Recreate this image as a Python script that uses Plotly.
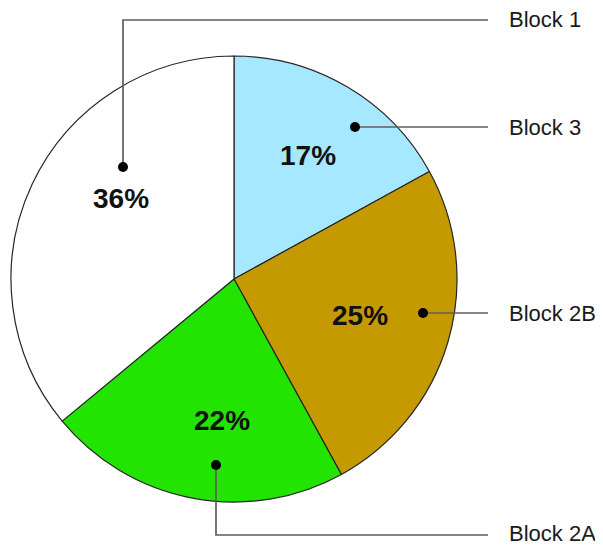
import plotly.graph_objects as go

labels = ["Block 3", "Block 2B", "Block 2A", "Block 1"]
values = [17, 25, 22, 36]
colors = ["#A6E8FF", "#C49A00", "#22E400", "#FFFFFF"]

# page has an 8px body margin; work in window pixels and shift
OFF = 8
WIN_W, WIN_H = 603, 546
W, H = WIN_W - OFF, WIN_H - OFF
cx, cy, R = 234 - OFF, 279 - OFF, 223

FONT = "Liberation Sans, Arial, sans-serif"

fig = go.Figure()
fig.add_trace(go.Pie(
    labels=labels, values=values, sort=False, direction="clockwise", rotation=0,
    marker=dict(colors=colors, line=dict(color="#262626", width=1.2)),
    textinfo="none", showlegend=False, hoverinfo="label+percent",
    domain=dict(x=[(cx - R) / W, (cx + R) / W], y=[(H - cy - R) / H, (H - cy + R) / H]),
))

def px(x):
    return (x - OFF) / W

def py(y):
    return 1 - (y - OFF) / H

# label layout (window pixels): percent text centre, dot, leader path, label anchor
layout_pos = {
    "Block 1": dict(pct=(121, 198), dot=(123, 167), path=[(123, 167), (123, 20), (488, 20)], lab=(507, 20)),
    "Block 3": dict(pct=(308, 155), dot=(355, 127), path=[(355, 127), (488, 127)], lab=(507, 127)),
    "Block 2B": dict(pct=(360, 315), dot=(423, 313), path=[(423, 313), (488, 313)], lab=(507, 313)),
    "Block 2A": dict(pct=(222, 420), dot=(216, 465), path=[(216, 465), (216, 535), (488, 535)], lab=(507, 533)),
}

total = sum(values)
shapes = []
annotations = []
for name, v in zip(labels, values):
    L = layout_pos[name]
    d = "M " + " L ".join(f"{px(x)},{py(y)}" for x, y in L["path"])
    shapes.append(dict(type="path", xref="paper", yref="paper", path=d,
                       line=dict(color="#5e5e5e", width=1.7)))
    dx, dy = L["dot"]
    r = 5
    shapes.append(dict(type="circle", xref="paper", yref="paper",
                       x0=px(dx - r), x1=px(dx + r), y0=py(dy + r), y1=py(dy - r),
                       fillcolor="#000000", line=dict(color="#000000", width=0)))
    lx, ly = L["lab"]
    annotations.append(dict(x=px(lx), y=py(ly), xref="paper", yref="paper", text=name,
                            showarrow=False, xanchor="left", yanchor="middle",
                            font=dict(family=FONT, size=22, color="#1a1a1a")))
    tx, ty = L["pct"]
    annotations.append(dict(x=px(tx), y=py(ty), xref="paper", yref="paper",
                            text=f"<b>{round(v / total * 100)}%</b>",
                            showarrow=False, xanchor="center", yanchor="middle",
                            font=dict(family=FONT, size=28, color="#111111")))

fig.update_layout(
    width=W, height=H, margin=dict(l=0, r=0, t=0, b=0),
    paper_bgcolor="white", plot_bgcolor="white",
    shapes=shapes, annotations=annotations,
)
fig.write_html("out.html")
